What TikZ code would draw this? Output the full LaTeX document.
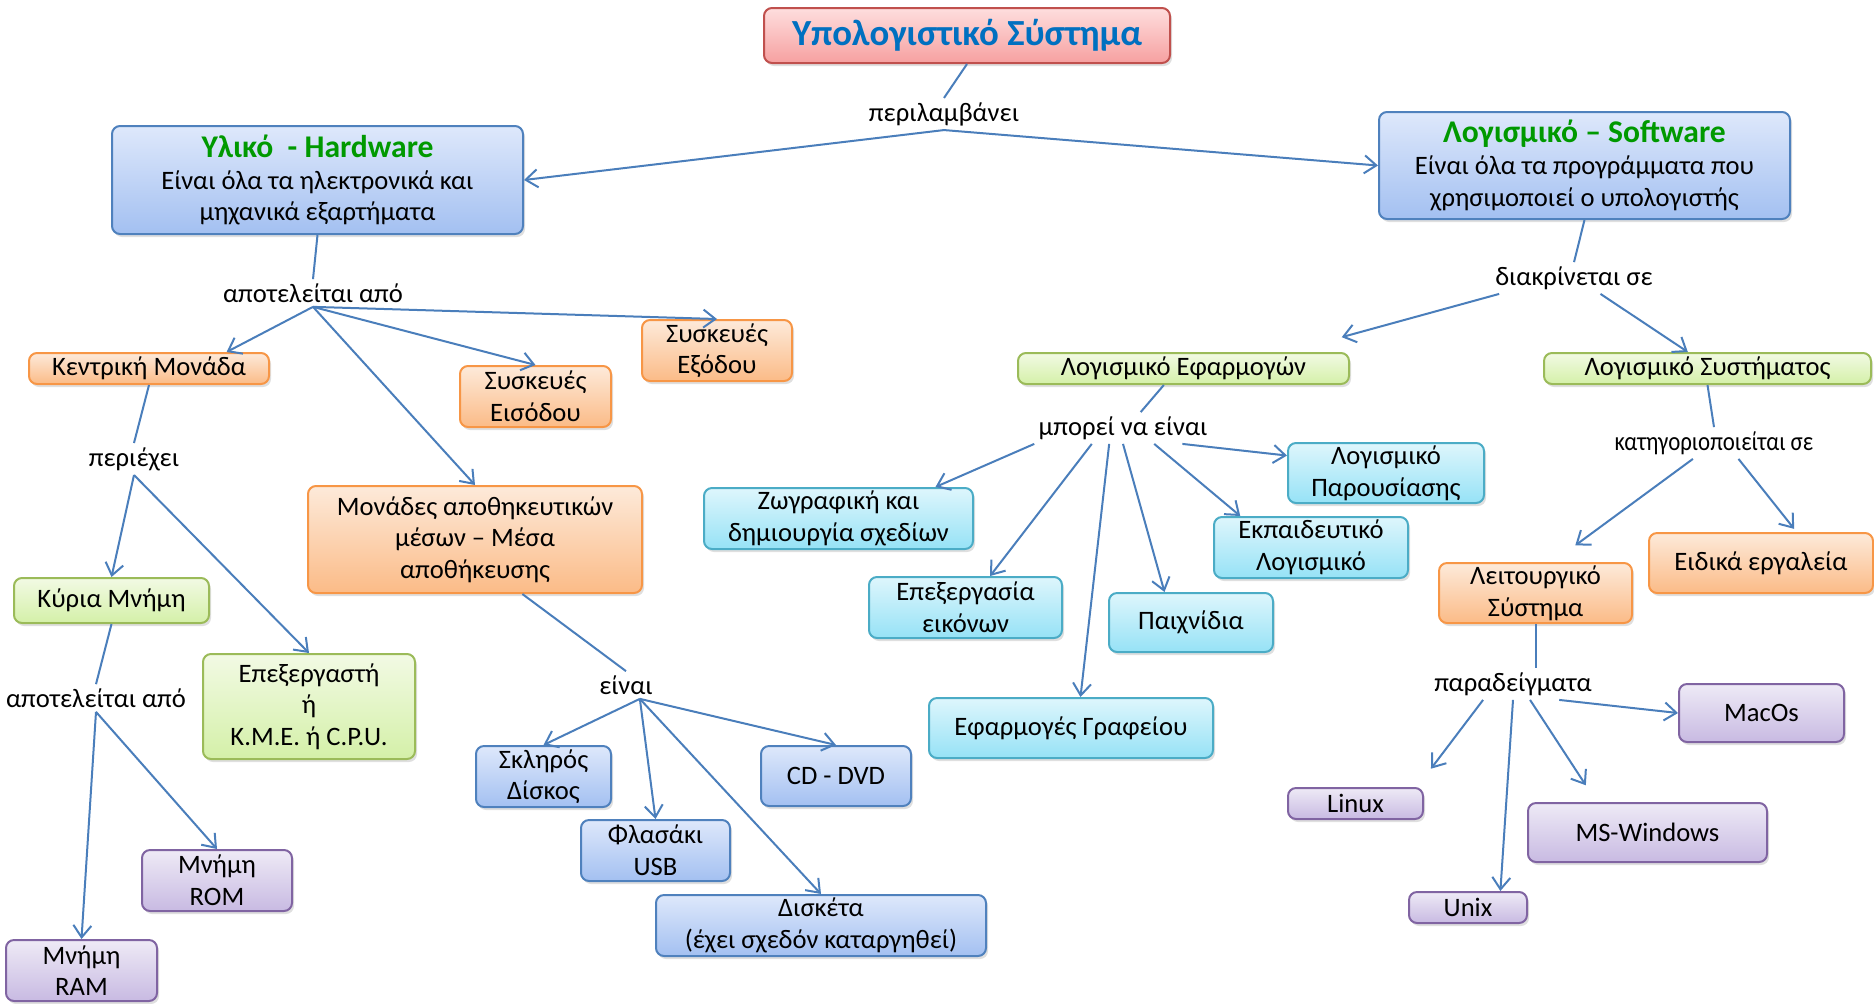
\documentclass[tikz,border=0pt]{standalone}
\usepackage{fontspec}
\setmainfont{Carlito}
\usetikzlibrary{arrows.meta,shadows}

\definecolor{linkblue}{RGB}{74,126,187}
\definecolor{titleblue}{RGB}{0,112,192}
\definecolor{headgreen}{RGB}{0,153,0}
\definecolor{rdline}{RGB}{192,80,77}
\definecolor{rdtop}{RGB}{254,222,222}
\definecolor{rdbot}{RGB}{246,160,160}
\definecolor{blline}{RGB}{79,129,189}
\definecolor{bltop}{RGB}{222,232,251}
\definecolor{blbot}{RGB}{163,192,241}
\definecolor{orline}{RGB}{247,150,70}
\definecolor{ortop}{RGB}{253,234,218}
\definecolor{orbot}{RGB}{251,187,135}
\definecolor{grline}{RGB}{155,187,89}
\definecolor{grtop}{RGB}{242,250,228}
\definecolor{grbot}{RGB}{212,240,168}
\definecolor{cyline}{RGB}{75,172,198}
\definecolor{cytop}{RGB}{222,246,252}
\definecolor{cybot}{RGB}{150,226,246}
\definecolor{puline}{RGB}{128,100,162}
\definecolor{putop}{RGB}{238,234,246}
\definecolor{pubot}{RGB}{200,186,226}

\begin{document}
\begin{tikzpicture}[x=0.5pt,y=-0.5pt,
  box/.style={rounded corners=4pt, line width=1pt, align=center, inner sep=0pt,
    font=\fontsize{13.3}{15.8}\selectfont,
    drop shadow={opacity=0.25, shadow xshift=1pt, shadow yshift=-1.5pt}},
  bluebox/.style={box, draw=blline, top color=bltop, bottom color=blbot},
  orbox/.style={box, draw=orline, top color=ortop, bottom color=orbot},
  grbox/.style={box, draw=grline, top color=grtop, bottom color=grbot},
  cybox/.style={box, draw=cyline, top color=cytop, bottom color=cybot},
  pubox/.style={box, draw=puline, top color=putop, bottom color=pubot},
  lbl/.style={inner sep=2pt, font=\fontsize{13.3}{15.8}\selectfont},
  link/.style={draw=linkblue, line width=1pt},
  arr/.style={link, -{Straight Barb[length=6pt,width=9pt]}}]
  \useasboundingbox (0,0) rectangle (1874,1003);

  % top
  \node[box, draw=rdline, top color=rdtop, bottom color=rdbot, minimum width=203pt, minimum height=27.5pt,
    font=\fontsize{18.4}{22}\selectfont\bfseries, text=titleblue] (title) at (967,35.5) {Υπολογιστικό Σύστημα};
  \node[lbl] (lblincl) at (944,114) {περιλαμβάνει};
  \node[bluebox, minimum width=205.5pt, minimum height=54pt] (hw) at (317.5,180)
    {{\fontsize{15.8}{17}\selectfont\bfseries\color{headgreen}Υλικό~ - Hardware}\\Είναι όλα τα ηλεκτρονικά και\\μηχανικά εξαρτήματα};
  \node[bluebox, minimum width=205.5pt, minimum height=53.5pt] (sw) at (1584.5,165.5)
    {{\fontsize{15.8}{17}\selectfont\bfseries\color{headgreen}Λογισμικό – Software}\\Είναι όλα τα προγράμματα που\\χρησιμοποιεί ο υπολογιστής};

  % hardware
  \node[lbl] (lblconsist) at (313,293) {αποτελείται από};
  \node[orbox, minimum width=120pt, minimum height=15.5pt] (central) at (149,368.5) {Κεντρική Μονάδα};
  \node[orbox, minimum width=75.5pt, minimum height=30.5pt] (input) at (535.5,396.5) {Συσκευές\\Εισόδου};
  \node[orbox, minimum width=75pt, minimum height=30.5pt] (output) at (717,350.5) {Συσκευές\\Εξόδου};
  \node[orbox, minimum width=167pt, minimum height=53.5pt] (storage) at (475,539.5) {Μονάδες αποθηκευτικών\\μέσων – Μέσα\\αποθήκευσης};
  \node[lbl] (lblcontains) at (134,459) {περιέχει};
  \node[grbox, minimum width=97.5pt, minimum height=22.5pt] (mainmem) at (111.5,600.5) {Κύρια Μνήμη};
  \node[grbox, minimum width=106pt, minimum height=52.5pt] (cpu) at (309,706.5) {Επεξεργαστή\\ή\\Κ.Μ.Ε. ή C.P.U.};
  \node[lbl] (lblconsist2) at (96,698) {αποτελείται από};
  \node[pubox, minimum width=75pt, minimum height=30.5pt] (rom) at (217,880.5) {Μνήμη\\ROM};
  \node[pubox, minimum width=75.5pt, minimum height=30.5pt] (ram) at (81.5,970.5) {Μνήμη\\RAM};
  \node[lbl] (lblare) at (626,685) {είναι};
  \node[bluebox, minimum width=67.5pt, minimum height=30.5pt] (hdd) at (543.5,776.5) {Σκληρός\\Δίσκος};
  \node[bluebox, minimum width=74.5pt, minimum height=30.5pt] (usb) at (655.5,850.5) {Φλασάκι\\USB};
  \node[bluebox, minimum width=75pt, minimum height=30pt] (cddvd) at (836,776) {CD - DVD};
  \node[bluebox, minimum width=165pt, minimum height=30.5pt] (floppy) at (821,925.5) {Δισκέτα\\(έχει σχεδόν καταργηθεί)};

  % software
  \node[lbl] (lbldivided) at (1574,278) {διακρίνεται σε};
  \node[grbox, minimum width=165.5pt, minimum height=15.5pt] (apps) at (1183.5,368.5) {Λογισμικό Εφαρμογών};
  \node[grbox, minimum width=163.5pt, minimum height=15.5pt] (syssw) at (1707.5,368.5) {Λογισμικό Συστήματος};
  \node[lbl] (lblcanbe) at (1123,428) {μπορεί να είναι};
  \node[cybox, minimum width=134.5pt, minimum height=30.5pt] (paint) at (838.5,518.5) {Ζωγραφική και\\δημιουργία σχεδίων};
  \node[cybox, minimum width=96.5pt, minimum height=30.5pt] (imgedit) at (965.5,607.5) {Επεξεργασία\\εικόνων};
  \node[cybox, minimum width=142pt, minimum height=30pt] (office) at (1071,728) {Εφαρμογές Γραφείου};
  \node[cybox, minimum width=82pt, minimum height=29.5pt] (games) at (1191,622.5) {Παιχνίδια};
  \node[cybox, minimum width=97pt, minimum height=30.5pt] (edu) at (1311,547.5) {Εκπαιδευτικό\\Λογισμικό};
  \node[cybox, minimum width=98pt, minimum height=30pt] (present) at (1386,473) {Λογισμικό\\Παρουσίασης};
  \node[lbl] (lblcategor) at (1714,443) {\scalebox{0.86}[1]{κατηγοριοποιείται σε}};
  \node[orbox, minimum width=96.5pt, minimum height=30pt] (os) at (1535.5,593) {Λειτουργικό\\Σύστημα};
  \node[orbox, minimum width=112pt, minimum height=30pt] (tools) at (1761,563) {Ειδικά εργαλεία};
  \node[lbl] (lblexamples) at (1513,684) {παραδείγματα};
  \node[pubox, minimum width=67.5pt, minimum height=15.5pt] (linux) at (1355.5,803.5) {Linux};
  \node[pubox, minimum width=59pt, minimum height=15.5pt] (unix) at (1468,907.5) {Unix};
  \node[pubox, minimum width=119.5pt, minimum height=29.5pt] (windows) at (1647.5,832.5) {MS-Windows};
  \node[pubox, minimum width=82.5pt, minimum height=29pt] (macos) at (1761.5,713) {MacOs};

  % connectors
  \draw[link] (title.south) -- (lblincl.north);
  \draw[arr] (lblincl.south) -- (hw.east);
  \draw[arr] (lblincl.south) -- (sw.west);
  \draw[link] (hw.south) -- (lblconsist.north);
  \draw[arr] (lblconsist.south) -- (central.12);
  \draw[arr] (lblconsist.south) -- (input.north);
  \draw[arr] (lblconsist.south) -- (output.north);
  \draw[arr] (lblconsist.south) -- (storage.north);
  \draw[link] (central.south) -- (lblcontains.north);
  \draw[arr] (lblcontains.south) -- (mainmem.north);
  \draw[arr] (lblcontains.south) -- (cpu.north);
  \draw[link] (mainmem.south) -- (lblconsist2.north);
  \draw[arr] (lblconsist2.south) -- (ram.north);
  \draw[arr] (lblconsist2.south) -- (rom.north);
  \draw[link] (storage.-49) -- (lblare.north);
  \draw[arr] (lblare.-45) -- (hdd.north);
  \draw[arr] (lblare.-45) -- (usb.north);
  \draw[arr] (lblare.-45) -- (cddvd.north);
  \draw[arr] (lblare.-45) -- (floppy.north);

  \draw[link] (sw.south) -- (lbldivided.north);
  \draw[arr, shorten >=28pt] (lbldivided.-168) -- (apps.9);
  \draw[arr] (lbldivided.-31) -- (syssw.140);
  \draw[link] (apps.-140) -- (lblcanbe.42);
  \draw[arr] (lblcanbe.south west) -- (paint.18);
  \draw[arr] (lblcanbe.-153) -- (imgedit.52);
  \draw[arr] (lblcanbe.-131) -- (office.73);
  \draw[arr] (lblcanbe.south) -- (games.131);
  \draw[arr] (lblcanbe.-27) -- (edu.156);
  \draw[arr] (lblcanbe.-15) -- (present.170);
  \draw[link] (syssw.south) -- (lblcategor.north);
  \draw[arr, shorten >=14pt] (lblcategor.-143) -- (os.61);
  \draw[arr, shorten >=2pt] (lblcategor.-33) -- (tools.41);
  \draw[link] (os.south) -- (os.south |- lblexamples.north);
  \draw[arr, shorten >=11.5pt] (lblexamples.-152) -- (linux.15);
  \draw[arr] (lblexamples.south) -- (unix.27);
  \draw[arr, shorten >=10pt] (lblexamples.-43) -- (windows.149);
  \draw[arr] (lblexamples.-19) -- (macos.west);
\end{tikzpicture}
\end{document}
